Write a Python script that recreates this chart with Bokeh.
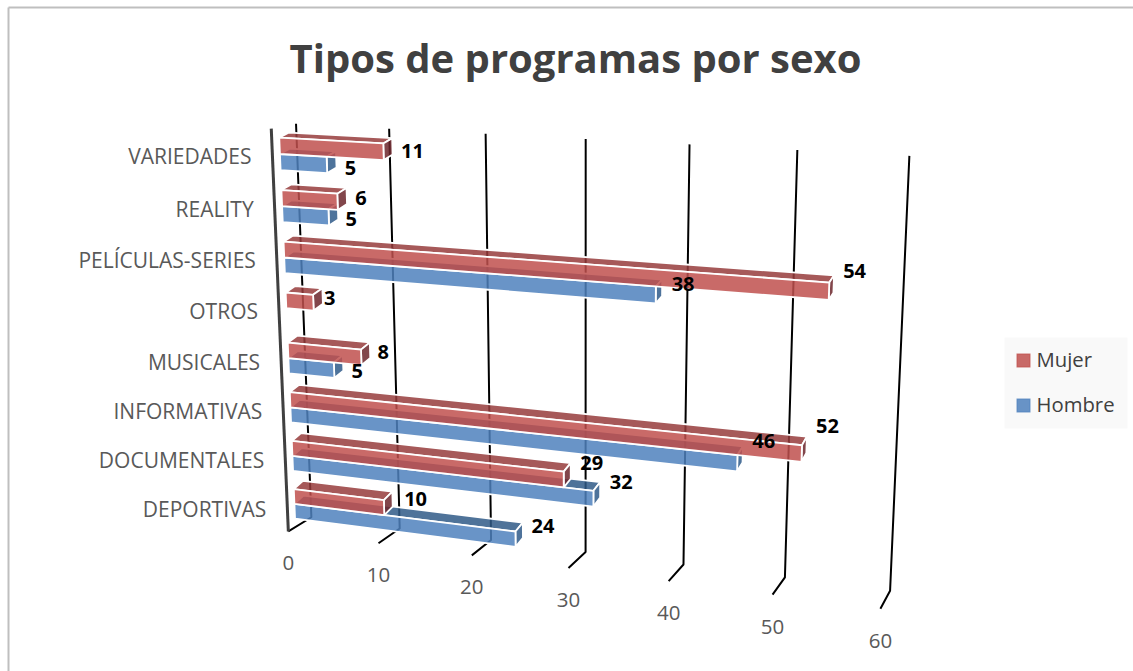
import numpy as np
from bokeh.plotting import figure, ColumnDataSource
from bokeh.core.properties import value
from bokeh.embed import file_html
from bokeh.resources import INLINE

title = "Tipos de programas por sexo"
categories = ["DEPORTIVAS", "DOCUMENTALES", "INFORMATIVAS", "MUSICALES", "OTROS", "PELÍCULAS-SERIES", "REALITY", "VARIEDADES"]
mujer = [10, 29, 52, 8, 3, 54, 6, 11]
hombre = [24, 32, 46, 5, None, 38, 5, 5]
ticks = [0, 10, 20, 30, 40, 50, 60]
series_names = ["Mujer", "Hombre"]

# label nudges from the computed bar end (style, not data)
mujer_off = [(3,7),(1,-1),(1,-12),(-7,9),(-13,9),(1,-6),(-6,9),(0,11)]
hombre_off = [(0,0),(1,-4),(1,-10),(-6,12),None,(1,0),(-7,11),(-6,12)]

# --- projection calibration: (value, height 0..1, depth 0..1) -> page pixel
back_top = [(296,124),(388,128),(485,133),(585,139),(689,144),(797,150),(909,155)]
back_bot = [(311,517),(398,530),(491,538),(585,550),(683,563),(785,577),(890,591)]
front_bot = [(288,532),(378,543),(472,555),(568,565),(668,581),(772,595),(879,609)]
front_top0 = (271,127)
calib = []
for k, v in enumerate(ticks):
    calib += [((v,1,1),back_top[k]), ((v,0,1),back_bot[k]), ((v,0,0),front_bot[k])]
calib.append(((0,1,0),front_top0))
A, b = [], []
for (v,t,z),(x,y) in calib:
    X = [v/60, t, z, 1]
    A.append(X+[0,0,0,0]+[-x*c for c in X[:3]]); b.append(x)
    A.append([0,0,0,0]+X+[-y*c for c in X[:3]]); b.append(y)
h = np.linalg.lstsq(np.array(A,float), np.array(b,float), rcond=None)[0]
P = np.append(h,1).reshape(3,4)
def proj(v,t,z):
    q = P @ np.array([v/60,t,z,1.0])
    return q[0]/q[2], q[1]/q[2]

p = figure(width=1133, height=671, x_range=(0,1133), y_range=(671,0), toolbar_location=None,
           output_backend="svg", min_border=0, outline_line_color=None, background_fill_color="white")
p.xaxis.visible = False; p.yaxis.visible = False; p.grid.visible = False

FONT = value("Open Sans")
# frame
p.line([8,8],[671,7], line_color="#BFBFBF", line_width=2)
p.line([8,1133],[7,7], line_color="#BFBFBF", line_width=2)
p.text([575],[57],text=[title],text_font=FONT,text_font_style="bold",text_font_size="40px",
       text_color="#404040",text_align="center",text_baseline="middle")

# walls and floor ticks
for v in ticks:
    a=proj(v,1,1); b_=proj(v,0,1); c=proj(v,0,0)
    p.line([a[0],b_[0],c[0]],[a[1],b_[1],c[1]],line_color="black",line_width=2)
a=proj(0,1,0); c=proj(0,0,0)
p.line([a[0],c[0]],[a[1],c[1]],line_color="#404040",line_width=3)

Z0,Z1=0.30,0.70
SLOT=1/len(categories)
GAP=0.18; BAR=0.31; TILT=0.06
faces={"xs":[],"ys":[],"fill":[],}
COL={"m":("#C0504D","#963C3C","#6C262B"),"h":("#4F81BD","#305A87","#2F5A8A")}
def add(pts,col):
    faces["xs"].append([q[0] for q in pts]); faces["ys"].append([q[1] for q in pts]); faces["fill"].append(col)
def bar(v,t0,t1,cols):
    tb=t1+TILT*SLOT
    add([proj(0,t1,Z0),proj(0,tb,Z1),proj(v,tb,Z1),proj(v,t1,Z0)],cols[1])
    add([proj(v,t0,Z0),proj(v,t1,Z0),proj(v,tb,Z1),proj(v,t0+TILT*SLOT,Z1)],cols[2])
    add([proj(0,t0,Z0),proj(0,t1,Z0),proj(v,t1,Z0),proj(v,t0,Z0)],cols[0])
lab={"x":[],"y":[],"t":[]}
for i in range(len(categories)):
    t=i*SLOT
    h0=t+GAP*SLOT; h1=h0+BAR*SLOT; m1=h1+BAR*SLOT
    if hombre[i] is not None:
        bar(hombre[i],h0,h1,COL["h"])
        e=proj(hombre[i],(h0+h1)/2,Z1); o=hombre_off[i]
        lab["x"].append(e[0]+20+o[0]); lab["y"].append(e[1]-7+o[1]); lab["t"].append(str(hombre[i]))
    if mujer[i] is not None:
        bar(mujer[i],h1,m1,COL["m"])
        e=proj(mujer[i],(h1+m1)/2,Z1); o=mujer_off[i]
        lab["x"].append(e[0]+20+o[0]); lab["y"].append(e[1]-10+o[1]); lab["t"].append(str(mujer[i]))
p.patches("xs","ys",source=ColumnDataSource(faces),fill_color="fill",fill_alpha=0.85,line_color="white",line_width=1.8)
p.text("x","y",text="t",source=ColumnDataSource(lab),text_font=FONT,text_font_style="bold",text_font_size="20px",
       text_color="black",text_align="center",text_baseline="middle")

# category labels
cx,cy=[],[]
for i in range(len(categories)):
    q=proj(0,(i+0.5)*SLOT,0)
    cx.append(q[0]-21); cy.append(q[1]+1)
p.text(cx,cy,text=categories,text_font=FONT,text_font_size="21px",text_color="#595959",text_align="right",text_baseline="middle")
# value tick labels
tx,ty=[],[]
for v in ticks:
    q=proj(v,0,0); tx.append(q[0]); ty.append(q[1]+32)
p.text(tx,ty,text=[str(v) for v in ticks],text_font=FONT,text_font_size="20.5px",text_color="#595959",text_align="center",text_baseline="middle")

# legend
p.quad(left=[1004],right=[1127],top=[337],bottom=[428],fill_color="#F9F9F9",line_color=None)
for name,col,y in zip(series_names,["#C0504D","#4F81BD"],[360,405]):
    p.rect([1023],[y],width=13,height=13,fill_color=col,fill_alpha=0.85,line_color=col,line_alpha=0.4,line_width=2)
    p.text([1036],[y-2],text=[name],text_font=FONT,text_font_size="20.3px",text_color="#404040",text_baseline="middle")

open("out.html","w").write(file_html(p,INLINE))
